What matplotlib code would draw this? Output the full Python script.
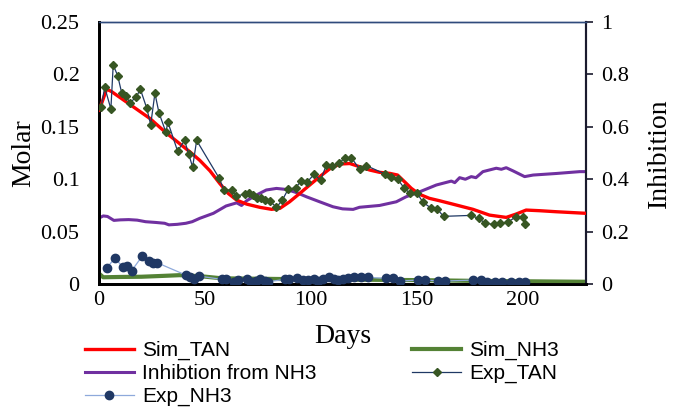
import matplotlib
matplotlib.use("Agg")
import matplotlib.pyplot as plt

# Simulated total ammonia nitrogen (Molar)
sim_tan_days = [0, 1, 3.6, 6, 24, 31.6, 43, 47.6, 52.4, 57, 61, 65, 69.7, 76, 81.5, 85.4, 90,
                94.8, 99.5, 104.2, 109, 113.7, 118.4, 123, 127.8, 132.5, 137.3, 141, 144.3,
                147.5, 151.4, 156, 160.8, 167, 171.8, 176.6, 184.4, 192.3, 197, 201.7, 208,
                216, 230]
sim_tan = [0.166, 0.171, 0.186, 0.1835, 0.158, 0.1444, 0.126, 0.118, 0.108, 0.096, 0.0865,
           0.0801, 0.0763, 0.0732, 0.0713, 0.0722, 0.0785, 0.0865, 0.0945, 0.1024, 0.110,
           0.1145, 0.115, 0.112, 0.1088, 0.1066, 0.1056, 0.104, 0.0976, 0.0913, 0.0856,
           0.0818, 0.0795, 0.0763, 0.0738, 0.0713, 0.0658, 0.0636, 0.0668, 0.0706, 0.070,
           0.069, 0.0675]

# Simulated free ammonia (Molar)
sim_nh3_days = [0, 2, 10, 20, 30, 38, 48, 58, 100, 150, 180, 230]
sim_nh3 = [0.010, 0.0065, 0.0068, 0.007, 0.0078, 0.0085, 0.0075, 0.0055, 0.0045, 0.0038,
           0.003, 0.0022]

# Inhibition factor from NH3 (secondary axis)
inhib_days = [0, 2, 4, 7, 10, 14, 18, 22, 27, 31, 33, 37, 41, 44, 47.6, 54, 60, 65, 67.3,
              69.7, 74.4, 79, 83.8, 88.5, 93.3, 98, 104.2, 110.5, 115, 120, 123, 132.5,
              140.4, 145, 151.4, 159.3, 166.4, 168, 170.3, 173, 175.8, 178, 181.3, 187.6,
              190, 192.3, 195.5, 201, 205, 216, 227, 230]
inhib = [0.252, 0.26, 0.258, 0.243, 0.245, 0.246, 0.244, 0.238, 0.235, 0.232, 0.226, 0.228,
         0.232, 0.238, 0.251, 0.27, 0.298, 0.31, 0.30, 0.318, 0.34, 0.359, 0.365, 0.361,
         0.349, 0.333, 0.314, 0.295, 0.287, 0.285, 0.293, 0.30, 0.314, 0.333, 0.352, 0.378,
         0.393, 0.387, 0.406, 0.40, 0.41, 0.406, 0.429, 0.442, 0.438, 0.444, 0.432, 0.41,
         0.416, 0.422, 0.429, 0.429]

# Measured TAN (Molar)
exp_tan_days = [1, 2.7, 5.6, 6.7, 8.8, 10.7, 12.6, 14.6, 17.6, 19.5, 22.5, 24.4, 26.4, 28.3,
                31.6, 32.5, 37.1, 40.4, 42.3, 44.2, 46.1, 56.8, 59, 62.9, 64.9, 68.9, 70.9,
                72.8, 74.8, 76.7, 78.6, 80.7, 83.8, 86.6, 89.3, 92.8, 95.6, 98.4, 101.6,
                104.6, 107.4, 110.2, 113.4, 116.2, 119.2, 123.1, 126.3, 135.2, 138.1, 141,
                144, 146.8, 150.1, 153, 156.6, 159.8, 162.7, 175.5, 179.4, 182.4, 186.3,
                189.2, 193.1, 197, 200.2, 201.3]
exp_tan = [0.169, 0.1877, 0.167, 0.209, 0.1988, 0.1825, 0.1797, 0.173, 0.1784, 0.186, 0.168,
           0.152, 0.182, 0.1635, 0.1447, 0.1546, 0.1269, 0.137, 0.1243, 0.1116, 0.137, 0.1008,
           0.0897, 0.0897, 0.0843, 0.0856, 0.0865, 0.0849, 0.0823, 0.0818, 0.0802, 0.0792,
           0.0732, 0.0802, 0.0904, 0.0919, 0.0986, 0.0976, 0.1047, 0.0992, 0.1135, 0.1126,
           0.1151, 0.1207, 0.1205, 0.1094, 0.1129, 0.1049, 0.1018, 0.1002, 0.0919, 0.0865,
           0.0871, 0.078, 0.0728, 0.0713, 0.0646, 0.0655, 0.0627, 0.0579, 0.057, 0.0579,
           0.0592, 0.0642, 0.0642, 0.057]

# Measured NH3 (Molar)
exp_nh3_days = [3.6, 7.5, 11.2, 13.4, 15.4, 20.4, 23.7, 25.3, 27.5, 41, 42.9, 44.8, 47.2,
                57.9, 59.9, 63.8, 65.7, 69.7, 72, 74.1, 76, 78.3, 79.9, 87.7, 89.8, 93.5,
                96.4, 98.7, 101.4, 103.4, 105.8, 108.5, 110.8, 112.9, 115.2, 117.6, 120.3,
                123.9, 127, 135.7, 138.8, 142, 150.6, 153.8, 160, 163.2, 176.6, 180.2, 183.3,
                186.8, 190.4, 194.7, 198.3, 201]
exp_nh3 = [0.0156, 0.0245, 0.0165, 0.0172, 0.0127, 0.0267, 0.0222, 0.0197, 0.0203, 0.0086,
           0.0064, 0.0045, 0.0076, 0.0045, 0.0045, 0.0022, 0.0038, 0.0045, 0.0022, 0.0031,
           0.0045, 0.0031, 0.0022, 0.0045, 0.0045, 0.0054, 0.0038, 0.0038, 0.0045, 0.0031,
           0.0045, 0.0064, 0.0045, 0.0038, 0.0045, 0.0054, 0.0064, 0.0064, 0.0064, 0.0054,
           0.0054, 0.0029, 0.0038, 0.0038, 0.0031, 0.0029, 0.0038, 0.0038, 0.0016, 0.0016,
           0.0016, 0.0016, 0.0022, 0.0022]

x_ticks = [0, 50, 100, 150, 200]
left_ticks = [0, 0.05, 0.1, 0.15, 0.2, 0.25]
left_labels = ["0", "0.05", "0.1", "0.15", "0.2", "0.25"]
right_ticks = [0, 0.2, 0.4, 0.6, 0.8, 1.0]
right_labels = ["0", "0.2", "0.4", "0.6", "0.8", "1"]

SERIF = ["Liberation Serif", "DejaVu Serif"]
SANS = ["Liberation Sans", "DejaVu Sans"]

fig = plt.figure(figsize=(6.75, 4.07), dpi=100)
ax = fig.add_axes([0.1467, 0.302, 0.7215, 0.644])
ax2 = ax.twinx()
ax.set_zorder(ax2.get_zorder() + 1)
ax.patch.set_visible(False)

l_tan, = ax.plot(sim_tan_days, sim_tan, color="#FF0000", lw=2.4, label="Sim_TAN", zorder=3)
l_nh3, = ax.plot(sim_nh3_days, sim_nh3, color="#548235", lw=3.0, label="Sim_NH3", zorder=2)
l_inh, = ax2.plot(inhib_days, inhib, color="#7030A0", lw=2.2, label="Inhibtion from NH3")
l_etan, = ax.plot(exp_tan_days, exp_tan, color="#1F3864", lw=0.9, marker="D", ms=4.3,
                  mfc="#375623", mec="#375623", label="Exp_TAN", zorder=4)
l_enh3, = ax.plot(exp_nh3_days, exp_nh3, color="#8EA9DB", lw=0.9, marker="o", ms=6.0,
                  mfc="#203864", mec="#203864", label="Exp_NH3", zorder=4)

ax.set_xlim(0, 230)
ax.set_ylim(0, 0.25)
ax2.set_ylim(0, 1)

ax.set_xticks(x_ticks)
ax.set_xticklabels([str(t) for t in x_ticks], family=SERIF, fontsize=16)
ax.set_yticks(left_ticks)
ax.set_yticklabels(left_labels, family=SERIF, fontsize=16)
ax2.set_yticks(right_ticks)
ax2.set_yticklabels(right_labels, family=SERIF, fontsize=16)

ax.tick_params(axis="x", length=0, pad=5)
ax.tick_params(axis="y", length=0, pad=14)
ax2.tick_params(axis="y", direction="out", length=5, width=1.2, color="#1a1a2e", pad=6)

ax.set_xlabel("Days", family=SERIF, fontsize=20, labelpad=10)
ax.set_ylabel("Molar", family=SERIF, fontsize=20, labelpad=3)
ax2.set_ylabel("Inhibition", family=SERIF, fontsize=20, labelpad=13)

for a in (ax, ax2):
    a.spines["left"].set_color("black")
    a.spines["left"].set_linewidth(2.0)
    a.spines["bottom"].set_color("black")
    a.spines["bottom"].set_linewidth(2.0)
    a.spines["top"].set_color("#2F4B7C")
    a.spines["top"].set_linewidth(1.0)
    a.spines["right"].set_color("#1a1a2e")
    a.spines["right"].set_linewidth(1.5)

handles = [l_tan, l_inh, l_enh3, l_nh3, l_etan]
leg = fig.legend(handles, [h.get_label() for h in handles], ncol=2,
                 loc="upper left", bbox_to_anchor=(0.1253, 0.162), frameon=False,
                 prop={"family": SANS, "size": 15}, handlelength=2.35, handletextpad=0.4,
                 columnspacing=4.6, labelspacing=0.18, borderpad=0, borderaxespad=0)

fig.savefig("out.png", dpi=100)
